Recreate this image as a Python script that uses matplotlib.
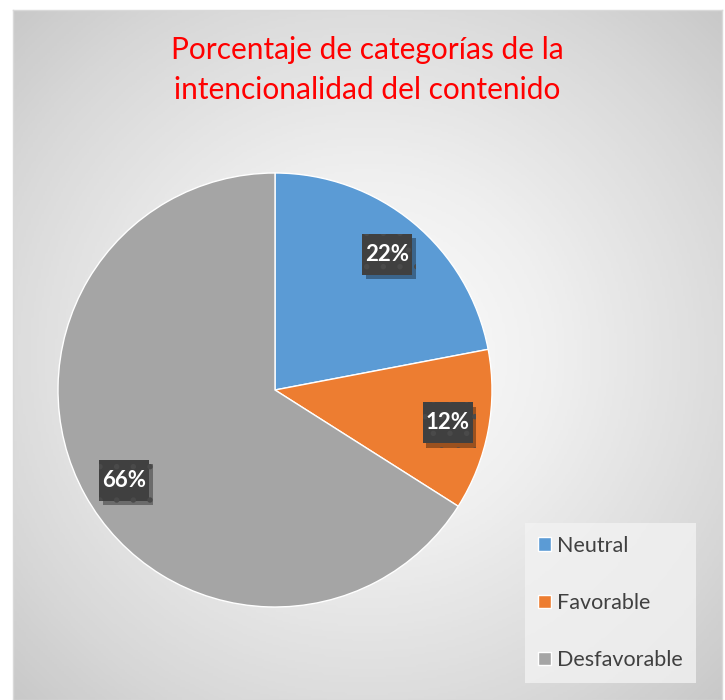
import numpy as np
import matplotlib.pyplot as plt
from matplotlib import patheffects as pe
from matplotlib.patches import Rectangle

# data
categories = ["Neutral", "Favorable", "Desfavorable"]
values = [22, 12, 66]
colors = ["#5B9BD5", "#ED7D31", "#A5A5A5"]
title = "Porcentaje de categorías de la\nintencionalidad del contenido"

plt.rcParams['font.family'] = ['Lato', 'DejaVu Sans']
plt.rcParams['hatch.linewidth'] = 1.5

fig = plt.figure(figsize=(7.25, 7.0), dpi=100)
fig.patch.set_facecolor("white")

# chart area with radial gradient
bg = fig.add_axes([13/725, 0, 709/725, 690/700])
yy, xx = np.mgrid[-1:1:300j, -1:1:300j]
d = np.sqrt(xx**2 + yy**2) / np.sqrt(2)
bg.imshow(d, cmap="Greys", vmin=-0.05, vmax=3.2, extent=[0, 1, 0, 1],
          aspect="auto", interpolation="bilinear")
bg.set_xticks([])
bg.set_yticks([])
for s in bg.spines.values():
    s.set_color("#d9d9d9")
    s.set_linewidth(1)

fig.text(367/725, 1 - 70/700, title, color="#FF0000", fontsize=21.5,
         ha="center", va="center", linespacing=1.55)

# pie
ax = fig.add_axes([58/725, 93/700, 434/725, 434/700])
wedges, texts, autotexts = ax.pie(values, colors=colors, startangle=90,
                                  counterclock=False, autopct="%d%%",
                                  pctdistance=0.81,
                                  wedgeprops=dict(edgecolor="white", linewidth=1))
ax.set_xlim(-1, 1)
ax.set_ylim(-1, 1)
ax.set_aspect("equal")

# Excel placed the 66% label off the wedge middle
ang = np.deg2rad(211)
autotexts[2].set_position((0.81 * np.cos(ang), 0.81 * np.sin(ang)))

for t in autotexts:
    t.set_color("white")
    t.set_fontsize(16)
    t.set_fontweight("bold")
    t.set_zorder(5)

# dark label boxes behind the percentages
fig.canvas.draw()
for t in autotexts:
    bb = t.get_window_extent()
    cx = (bb.x0 + bb.x1) / 2
    cy = (bb.y0 + bb.y1) / 2
    w, h = bb.width + 6, 41
    box = Rectangle((cx - w / 2, cy - h / 2), w, h, transform=None,
                    facecolor="#404040", edgecolor="#4a4a4a", linewidth=0,
                    hatch=".", zorder=4, clip_on=False)
    box.set_path_effects([
        pe.SimplePatchShadow(offset=(2.5, -3), alpha=0.35, shadow_rgbFace="black"),
        pe.Normal()])
    ax.add_artist(box)

leg = fig.legend(wedges, categories, loc="upper left",
                 bbox_to_anchor=(525/725, 1 - 523/700),
                 frameon=True, fancybox=False, fontsize=15.5,
                 handlelength=0.6, handleheight=0.6, handletextpad=0.3,
                 labelspacing=1.72, borderpad=0.6, borderaxespad=0)
leg.get_frame().set_facecolor("#f2f2f2")
leg.get_frame().set_edgecolor("none")
leg.get_frame().set_alpha(0.8)
for t in leg.get_texts():
    t.set_color("#404040")

fig.savefig("out.png", dpi=100)
